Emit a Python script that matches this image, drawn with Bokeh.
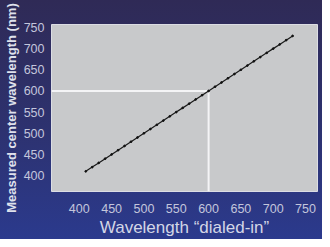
from bokeh.plotting import figure
from bokeh.models import Range1d, FixedTicker, InlineStyleSheet
from bokeh.embed import file_html
from bokeh.resources import INLINE

# Data
dialed_in = [410, 420, 430, 440, 450, 460, 470, 480, 490, 500, 510, 520, 530,
             540, 550, 560, 570, 580, 590, 600, 610, 620, 630, 640, 650, 660,
             670, 680, 690, 700, 710, 720, 730]
measured = [410, 420, 430, 440, 450, 460, 470, 480, 490, 500, 510, 520, 530,
            540, 550, 560, 570, 580, 590, 600, 610, 620, 630, 640, 650, 660,
            670, 680, 690, 700, 710, 720, 730]
x_ticks = [400, 450, 500, 550, 600, 650, 700, 750]
y_ticks = [400, 450, 500, 550, 600, 650, 700, 750]
ref_x = [357, 600, 600]
ref_y = [600, 600, 362.4]

bg = InlineStyleSheet(css=":host { background: linear-gradient(180deg, #2f2a56 0%, #2d3270 55%, #2b3a8d 100%); }")

p = figure(width=322, height=239, output_backend="svg", toolbar_location=None,
           x_range=Range1d(357, 768.5), y_range=Range1d(362.4, 757),
           min_border_left=50, min_border_right=5, min_border_top=24,
           min_border_bottom=47, stylesheets=[bg])
p.border_fill_color = None
p.background_fill_color = "#c8c9cb"
p.outline_line_color = "#dcdde4"
p.outline_line_width = 1
p.grid.visible = False

for ax in (p.xaxis, p.yaxis):
    ax.axis_line_color = None
    ax.major_tick_line_color = None
    ax.minor_tick_line_color = None
    ax.major_label_text_color = "#c3c6dc"
    ax.major_label_text_font = "Liberation Sans"
    ax.major_label_text_font_size = "12.5px"
    ax.axis_label_text_font = "Liberation Sans"
    ax.axis_label_text_font_style = "normal"

p.xaxis.ticker = FixedTicker(ticks=x_ticks)
p.yaxis.ticker = FixedTicker(ticks=y_ticks)
p.xaxis.major_label_standoff = 6
p.yaxis.major_label_standoff = 1

p.xaxis.axis_label = "Wavelength \u201cdialed-in\u201d"
p.xaxis.axis_label_text_font_size = "17px"
p.xaxis.axis_label_text_color = "#d3d6e6"
p.xaxis.axis_label_standoff = 2

p.yaxis.axis_label = "Measured center wavelength (nm)"
p.yaxis.axis_label_text_font_size = "13px"
p.yaxis.axis_label_text_font_style = "bold"
p.yaxis.axis_label_text_color = "#dfe1ec"
p.yaxis.axis_label_standoff = 2

p.line(ref_x, ref_y, line_color="#f4f4f6", line_width=2)
p.line(dialed_in, measured, line_color="#1a1a1a", line_width=1.2)
p.scatter(dialed_in, measured, size=1.8, color="#111111")

open("out.html", "w").write(file_html(p, INLINE))
